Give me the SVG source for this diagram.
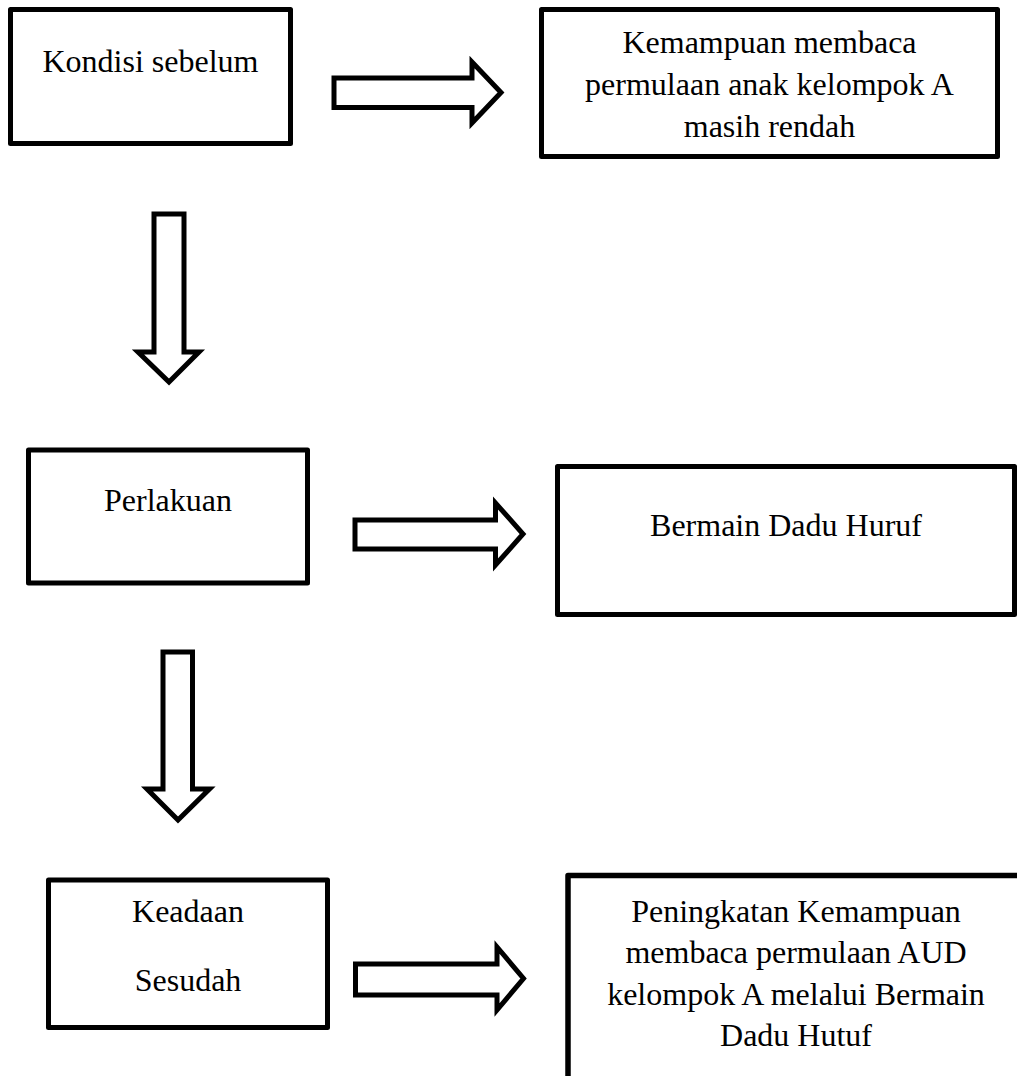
<svg xmlns="http://www.w3.org/2000/svg" width="1017" height="1076" viewBox="0 0 1017 1076">
<style>
.box{fill:#fff;stroke:#000;stroke-width:5;stroke-linejoin:round}
.arr{fill:#fff;stroke:#000;stroke-width:5;stroke-linejoin:miter;stroke-miterlimit:10}
text{font-family:"Liberation Serif","Times New Roman",serif;font-size:32px;fill:#000;text-anchor:middle}
</style>
<rect width="1017" height="1076" fill="#fff"/>
<g id="connectors">
<polygon class="arr" points="334,78 472,78 472,62 501,92.5 472,123 472,107.5 334,107.5"/>
<polygon class="arr" points="154,214 184,214 184,352 199,352 169,382 138,352 154,352"/>
<polygon class="arr" points="355,520 495.5,520 495.5,503 523,534 495.5,565 495.5,549 355,549"/>
<polygon class="arr" points="163,652 192.5,652 192.5,789 209.5,789 178,820 147,789 163,789"/>
<polygon class="arr" points="355.5,964 497,964 497,947 523.5,978.5 497,1010 497,995 355.5,995"/>
</g>
<g id="node-kondisi">
<rect class="box" x="10.5" y="9.5" width="280" height="134"/>
<text x="150.5" y="72">Kondisi sebelum</text>
</g>
<g id="node-kemampuan">
<rect class="box" x="541.5" y="9.5" width="456" height="147"/>
<text x="769.5" y="53">Kemampuan membaca</text>
<text x="769.5" y="95">permulaan anak kelompok A</text>
<text x="769.5" y="137">masih rendah</text>
</g>
<g id="node-perlakuan">
<rect class="box" x="28.5" y="450" width="279" height="133"/>
<text x="168" y="511">Perlakuan</text>
</g>
<g id="node-bermain">
<rect class="box" x="557.5" y="466.5" width="457" height="148"/>
<text x="786" y="536">Bermain Dadu Huruf</text>
</g>
<g id="node-keadaan">
<rect class="box" x="48.5" y="880" width="279" height="147.5"/>
<text x="188" y="921.5">Keadaan</text>
<text x="188" y="990.5">Sesudah</text>
</g>
<g id="node-peningkatan">
<rect class="box" x="568" y="875.5" width="470" height="230" style="stroke-width:5.5"/>
<text x="796" y="921.5">Peningkatan Kemampuan</text>
<text x="796" y="963">membaca permulaan AUD</text>
<text x="796" y="1005">kelompok A melalui Bermain</text>
<text x="796" y="1046">Dadu Hutuf</text>
</g>
</svg>
